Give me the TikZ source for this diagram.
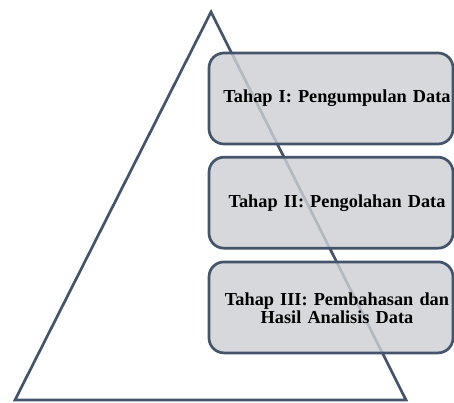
\documentclass[tikz,border=0pt]{standalone}
\usepackage{fontspec}
\setmainfont{Liberation Serif}
\usepackage{tikz}
\usetikzlibrary{positioning}
\definecolor{slateline}{HTML}{44546A}
\definecolor{boxgray}{HTML}{CDCFD4}

\begin{document}
\begin{tikzpicture}[
    x=1pt, y=-1pt,
    tahap/.style={rectangle, rounded corners=15pt, draw=slateline, line width=2.7pt,
      fill=boxgray, fill opacity=0.82, minimum width=244pt, minimum height=91pt},
    teks/.style={inner sep=0pt, align=center, text width=240pt,
      font=\fontsize{18.3}{17.5}\selectfont\bfseries}
]
\useasboundingbox (0,0) rectangle (454,403);
% segitiga
\coordinate (puncak) at (211,12);
\coordinate (kiri) at (15,400);
\coordinate (kanan) at (406,400);
\draw[slateline, line width=2.7pt, line join=miter] (kiri) -- (puncak) -- (kanan) -- cycle;
% tahap-tahap
\node[tahap] (tahap1) at (331,98.5) {};
\node[tahap, below=10.5pt of tahap1] (tahap2) {};
\node[tahap, below=11pt of tahap2] (tahap3) {};
\node[teks] (teks1) at ([xshift=6pt]tahap1.center) {Tahap I: Pengumpulan Data};
\node[teks] (teks2) at ([xshift=6pt]tahap2.center) {Tahap II: Pengolahan Data};
\node[teks] (teks3) at ([xshift=6pt,yshift=-1pt]tahap3.center) {Tahap III: Pembahasan dan\\Hasil Analisis Data};
\end{tikzpicture}
\end{document}
